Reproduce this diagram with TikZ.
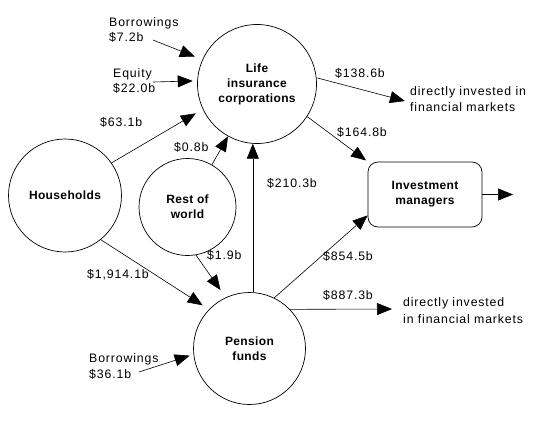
\documentclass[tikz,border=0pt]{standalone}
\usepackage{fontspec}
\setmainfont{Liberation Sans}[LetterSpace=7, BoldFeatures={LetterSpace=3}]
\usepackage{tikz}
\usetikzlibrary{arrows.meta, positioning, calc}

\begin{document}
\begin{tikzpicture}[
    x=1pt, y=-1pt,
    every node/.style={font=\fontsize{12.3}{15.5}\selectfont},
    sector/.style={circle, draw, line width=0.7pt, inner sep=0pt, align=center, font=\fontsize{12}{15}\selectfont\bfseries},
    manager/.style={rectangle, draw, line width=0.7pt, rounded corners=10pt, minimum width=114pt, minimum height=65pt, align=center, font=\fontsize{12}{15}\selectfont\bfseries},
    amount/.style={anchor=west, inner sep=0pt, align=left},
    flow/.style={-{Triangle[length=15pt, width=12pt]}, line width=0.6pt}
]
    \useasboundingbox (0,0) rectangle (558,442);

    % Sectors
    \node[sector, minimum size=119pt] (li) at (257,84) {Life\\insurance\\corporations};
    \node[sector, minimum size=113pt] (hh) at (65,195.5) {Households};
    \node[sector, minimum size=97pt] (row) at (187.5,207) {Rest of\\world};
    \node[sector, minimum size=112pt] (pf) at (249.5,348.5) {Pension\\funds};
    \node[manager] (im) at (425,194.5) {Investment\\managers};

    % Labels
    \node[amount] (bor1) at (109,30) {Borrowings\\\$7.2b};
    \node[amount] (eq) at (113,81) {Equity\\\$22.0b};
    \node[amount] (l63) at (100,122) {\$63.1b};
    \node[amount] (l08) at (174,147) {\$0.8b};
    \node[amount] (l210) at (267,183) {\$210.3b};
    \node[amount] (l138) at (335,73) {\$138.6b};
    \node[amount] (dir1) at (410,99) {directly invested in\\financial markets};
    \node[amount] (l164) at (337,132) {\$164.8b};
    \node[amount] (l1914) at (87,275) {\$1,914.1b};
    \node[amount] (l19) at (207,255) {\$1.9b};
    \node[amount] (l854) at (323,256) {\$854.5b};
    \node[amount] (l887) at (323,295) {\$887.3b};
    \node[amount, font=\fontsize{12.3}{17}\selectfont] (dir2) at (403,310.5) {directly invested\\in financial markets};
    \node[amount] (bor2) at (89,366.5) {Borrowings\\\$36.1b};

    % Free ends
    \coordinate (bor1end) at (153,40);
    \coordinate (eqend) at (153,82);
    \coordinate (bor2end) at (139,372);
    \coordinate (dir1end) at (405,101);
    \coordinate (dir2end) at (392,309);
    \coordinate (outend) at (513,194.5);

    % Flows
    \draw[flow, shorten >=8pt] (bor1end) -- (li.156);
    \draw[flow, shorten >=4.5pt] (eqend) -- (li.177);
    \draw[flow, shorten >=8pt] (hh.35) -- (li.205);
    \draw[flow] (row.60) -- (li.241);
    \draw[flow] (li.266 |- pf.north) -- (li.266);
    \draw[flow] (li.6) -- (dir1end);
    \draw[flow, shorten >=2pt] (li.-33) -- (im.north west);
    \draw[flow, shorten >=7.5pt] (hh.-51) -- (pf.136);
    \draw[flow, shorten >=9pt] (row.280) -- (pf.115);
    \draw[flow] (pf.64) -- (im.200);
    \draw[flow] (pf.44) -- (dir2end);
    \draw[flow, shorten >=4pt] (bor2end) -- (pf.186);
    \draw[flow] (im.east) -- (outend);
\end{tikzpicture}
\end{document}
